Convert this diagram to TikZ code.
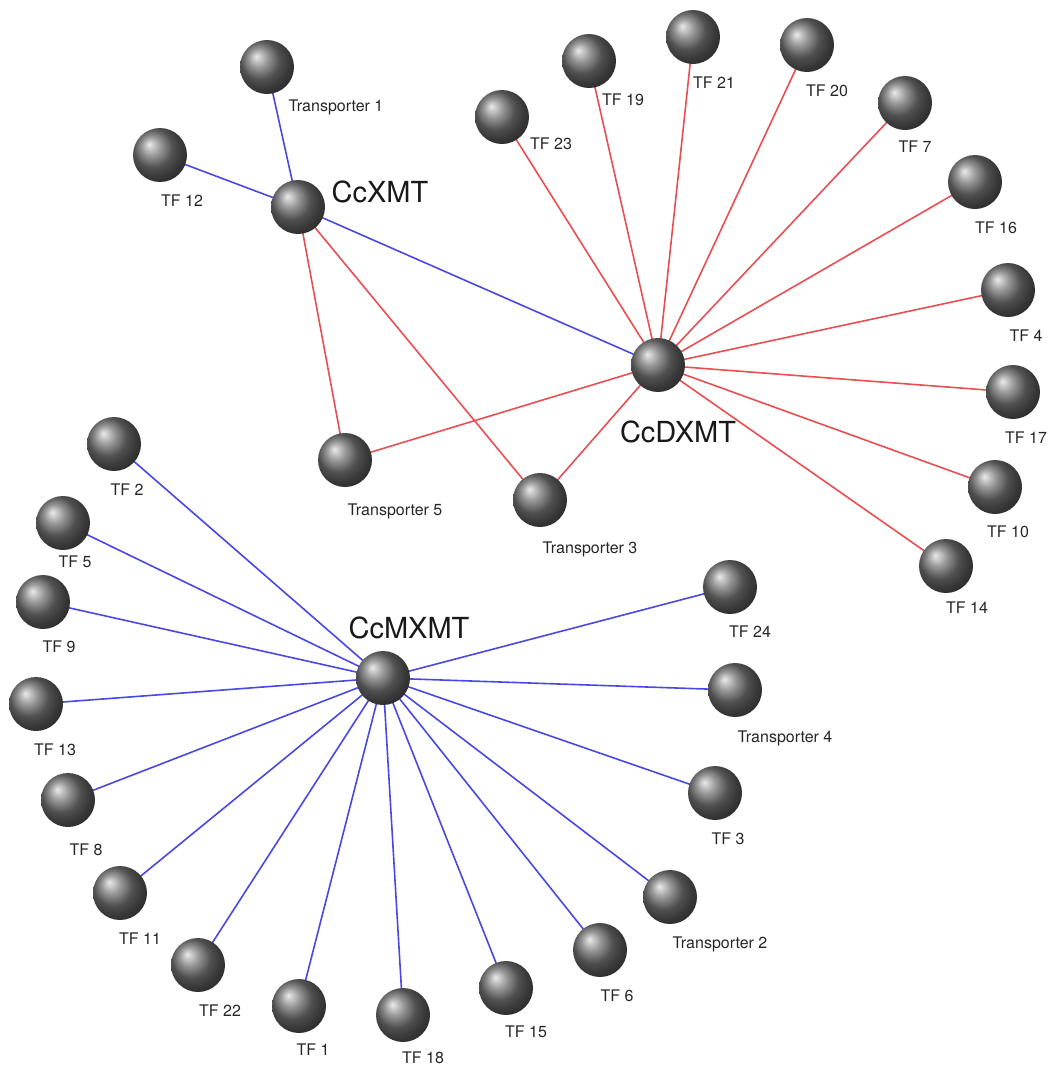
\documentclass[tikz,border=0pt]{standalone}
\usepackage{fontspec}
\setmainfont{TeX Gyre Heros}
\usetikzlibrary{backgrounds}
\definecolor{edgeblue}{RGB}{72,72,228}
\definecolor{edgered}{RGB}{232,78,82}
\tikzset{
  ball/.style={circle, minimum size=54pt, inner sep=0pt, shading=ball, ball color=black!55},
  lbl/.style={anchor=base, font=\fontsize{16}{16}\selectfont, text=black!85, inner sep=0pt},
  hublbl/.style={anchor=base, font=\fontsize{29}{29}\selectfont, text=black!90, inner sep=0pt},
  be/.style={draw=edgeblue, line width=1.6pt},
  re/.style={draw=edgered, line width=1.6pt}
}
\begin{document}
\begin{tikzpicture}[x=1pt,y=-1pt]
\useasboundingbox (0,0) rectangle (1060,1066);
% hubs
\node[ball] (cx) at (298,207) {};
\node[ball] (cd) at (658,365) {};
\node[ball] (cm) at (383,678) {};
\node[hublbl] (lcx) at (380,202) {CcXMT};
\node[hublbl] (lcd) at (678,442) {CcDXMT};
\node[hublbl] (lcm) at (409,638) {CcMXMT};
% CcXMT neighbours
\node[ball] (t1) at (267,67) {};
\node[lbl] (lt1) at (336,111) {Transporter 1};
\node[ball] (tf12) at (160,155) {};
\node[lbl] (ltf12) at (182,206) {TF 12};
\node[ball] (t5) at (345,460) {};
\node[lbl] (lt5) at (395,515) {Transporter 5};
\node[ball] (t3) at (540,500) {};
\node[lbl] (lt3) at (590,553) {Transporter 3};
% CcDXMT neighbours
\node[ball] (tf23) at (502,117) {};
\node[lbl] (ltf23) at (551,149) {TF 23};
\node[ball] (tf19) at (589,61) {};
\node[lbl] (ltf19) at (623,105) {TF 19};
\node[ball] (tf21) at (693,37) {};
\node[lbl] (ltf21) at (714,88) {TF 21};
\node[ball] (tf20) at (807,45) {};
\node[lbl] (ltf20) at (827,96) {TF 20};
\node[ball] (tf7) at (905,103) {};
\node[lbl] (ltf7) at (915,152) {TF 7};
\node[ball] (tf16) at (975,182) {};
\node[lbl] (ltf16) at (996,233) {TF 16};
\node[ball] (tf4) at (1008,290) {};
\node[lbl] (ltf4) at (1026,341) {TF 4};
\node[ball] (tf17) at (1013,392) {};
\node[lbl] (ltf17) at (1026,443) {TF 17};
\node[ball] (tf10) at (995,487) {};
\node[lbl] (ltf10) at (1008,537) {TF 10};
\node[ball] (tf14) at (946,566) {};
\node[lbl] (ltf14) at (967,613) {TF 14};
% CcMXMT neighbours
\node[ball] (tf2) at (114,444) {};
\node[lbl] (ltf2) at (127,495) {TF 2};
\node[ball] (tf5) at (63,523) {};
\node[lbl] (ltf5) at (75,567) {TF 5};
\node[ball] (tf9) at (43,602) {};
\node[lbl] (ltf9) at (59,652) {TF 9};
\node[ball] (tf13) at (36,704) {};
\node[lbl] (ltf13) at (55,755) {TF 13};
\node[ball] (tf8) at (68,800) {};
\node[lbl] (ltf8) at (86,855) {TF 8};
\node[ball] (tf11) at (120,893) {};
\node[lbl] (ltf11) at (140,944) {TF 11};
\node[ball] (tf22) at (198,965) {};
\node[lbl] (ltf22) at (220,1016) {TF 22};
\node[ball] (tf1) at (299,1006) {};
\node[lbl] (ltf1) at (313,1055) {TF 1};
\node[ball] (tf18) at (403,1015) {};
\node[lbl] (ltf18) at (423,1063) {TF 18};
\node[ball] (tf15) at (506,988) {};
\node[lbl] (ltf15) at (526,1037) {TF 15};
\node[ball] (tf6) at (600,950) {};
\node[lbl] (ltf6) at (617,1001) {TF 6};
\node[ball] (t2) at (670,897) {};
\node[lbl] (lt2) at (720,948) {Transporter 2};
\node[ball] (tf3) at (715,793) {};
\node[lbl] (ltf3) at (728,844) {TF 3};
\node[ball] (t4) at (735,690) {};
\node[lbl] (lt4) at (785,742) {Transporter 4};
\node[ball] (tf24) at (730,587) {};
\node[lbl] (ltf24) at (750,637) {TF 24};
\begin{pgfonlayer}{background}
  \foreach \n in {t1,tf12,cd} \draw[be] (cx.center) -- (\n.center);
  \foreach \n in {t5,t3} \draw[re] (cx.center) -- (\n.center);
  \foreach \n in {t5,t3,tf23,tf19,tf21,tf20,tf7,tf16,tf4,tf17,tf10,tf14} \draw[re] (cd.center) -- (\n.center);
  \foreach \n in {tf2,tf5,tf9,tf13,tf8,tf11,tf22,tf1,tf18,tf15,tf6,t2,tf3,t4,tf24} \draw[be] (cm.center) -- (\n.center);
\end{pgfonlayer}
\end{tikzpicture}
\end{document}
